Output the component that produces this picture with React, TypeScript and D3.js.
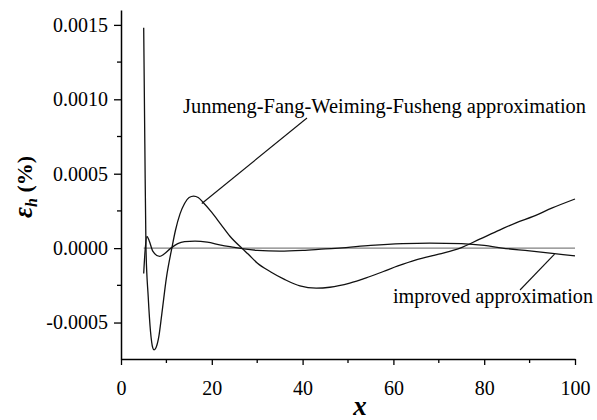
import * as d3 from "d3";
import { useEffect, useRef } from "react";

const xTicks = [0, 20, 40, 60, 80, 100];
const xMinor = [10, 30, 50, 70, 90];
const yTicks = [-0.0005, 0, 0.0005, 0.001, 0.0015];
const yMinor = [-0.00025, 0.00025, 0.00075, 0.00125];

// Junmeng-Fang-Weiming-Fusheng approximation
const jfwfX = [5, 5.25, 5.5, 6, 6.5, 7, 7.3, 7.7, 8.3, 9, 10, 11.2, 12, 13, 14, 15, 16, 17, 18, 20, 22, 24, 26.6, 28, 30, 33, 36, 39.4, 43, 46, 50.4, 54, 57.8, 61, 65, 70, 74.7, 79, 83.5, 87, 90.8, 95, 100];
const jfwfY = [0.00148, 0.0007, 0.0, -0.00033, -0.00056, -0.00067, -0.000684, -0.00067, -0.0006, -0.00044, -0.0002, 0.0, 0.00012, 0.00023, 0.0003, 0.00034, 0.00035, 0.00034, 0.00031, 0.00024, 0.00016, 0.00008, 0.0, -0.00004, -0.0001, -0.00016, -0.00021, -0.000254, -0.000269, -0.000263, -0.000235, -0.0002, -0.000157, -0.00012, -0.000079, -0.00004, 0.0, 0.00006, 0.000123, 0.00017, 0.000213, 0.00027, 0.00033];

// improved approximation
const impX = [5, 5.3, 5.7, 6.2, 7, 8.5, 9.5, 11, 12.5, 14, 16.3, 19, 22, 25, 27, 30, 35, 40, 45, 48, 55, 62, 68, 75, 80, 84, 90, 95, 100];
const impY = [-0.00017, -0.00002, 0.000078, 0.00005, -0.00002, -0.000056, -0.00004, 0.0, 0.00003, 0.000043, 0.000047, 0.00004, 0.00002, 0.000005, -0.000005, -0.000015, -0.00002, -0.000015, -0.000005, 0.0, 0.000018, 0.00003, 0.000034, 0.00003, 0.000018, 0.0, -0.000018, -0.000035, -0.000052];

const zeroX = [5, 100];

const width = 597;
const height = 420;
const marginLeft = 121;
const marginRight = 22;
const marginTop = 10;
const marginBottom = 61;
const font = "Liberation Serif, DejaVu Serif, serif";

export default function App() {
  const ref = useRef<SVGSVGElement>(null);

  useEffect(() => {
    const svg = d3.select(ref.current);
    svg.selectAll("*").remove();

    const x = d3.scaleLinear().domain([0, 100]).range([marginLeft, width - marginRight]);
    const y = d3
      .scaleLinear()
      .domain([-0.000745, 0.0016])
      .range([height - marginBottom, marginTop]);

    // zero reference line
    svg
      .append("line")
      .attr("x1", x(zeroX[0]))
      .attr("x2", x(zeroX[1]))
      .attr("y1", y(0))
      .attr("y2", y(0))
      .attr("stroke", "#808080")
      .attr("stroke-width", 1.2);

    const line = d3
      .line<[number, number]>()
      .x((d) => x(d[0]))
      .y((d) => y(d[1]))
      .curve(d3.curveMonotoneX);

    svg
      .append("path")
      .attr("d", line(impX.map((v, i) => [v, impY[i]])))
      .attr("fill", "none")
      .attr("stroke", "#111")
      .attr("stroke-width", 1.3);

    svg
      .append("path")
      .attr("d", line(jfwfX.map((v, i) => [v, jfwfY[i]])))
      .attr("fill", "none")
      .attr("stroke", "#111")
      .attr("stroke-width", 1.3);

    const fmtY = (d: d3.NumberValue) => d3.format(".4f")(d).replace("−", "-");

    // x axis
    const gx = svg
      .append("g")
      .attr("transform", `translate(0,${height - marginBottom})`)
      .call(
        d3.axisBottom(x).tickValues(xTicks).tickSize(6).tickSizeOuter(0).tickPadding(16).tickFormat(d3.format("d"))
      );
    gx.append("g")
      .selectAll("line")
      .data(xMinor)
      .join("line")
      .attr("x1", (d) => x(d))
      .attr("x2", (d) => x(d))
      .attr("y1", 0)
      .attr("y2", 4)
      .attr("stroke", "#000")
      .attr("stroke-width", 1.3);

    // y axis
    const gy = svg
      .append("g")
      .attr("transform", `translate(${marginLeft},0)`)
      .call(d3.axisLeft(y).tickValues(yTicks).tickSize(7).tickSizeOuter(0).tickPadding(6).tickFormat(fmtY));
    gy.append("g")
      .selectAll("line")
      .data(yMinor)
      .join("line")
      .attr("x1", 0)
      .attr("x2", -4)
      .attr("y1", (d) => y(d))
      .attr("y2", (d) => y(d))
      .attr("stroke", "#000")
      .attr("stroke-width", 1.3);

    svg.selectAll(".domain").attr("stroke-width", 1.5).attr("stroke", "#000");
    svg.selectAll(".tick line").attr("stroke-width", 1.3).attr("stroke", "#000");
    svg.selectAll("g").attr("font-family", font);
    svg
      .selectAll(".tick text")
      .attr("font-family", font)
      .attr("font-size", 20)
      .attr("fill", "#000");

    // annotations
    svg
      .append("line")
      .attr("x1", x(17.8))
      .attr("y1", y(0.0003))
      .attr("x2", 307)
      .attr("y2", 118)
      .attr("stroke", "#111")
      .attr("stroke-width", 1.1);
    svg
      .append("text")
      .attr("x", 183)
      .attr("y", 113)
      .attr("font-family", font)
      .attr("font-size", 20)
      .attr("textLength", 403)
      .attr("lengthAdjust", "spacingAndGlyphs")
      .text("Junmeng-Fang-Weiming-Fusheng approximation");

    svg
      .append("line")
      .attr("x1", x(95.5))
      .attr("y1", y(-0.00004))
      .attr("x2", 520)
      .attr("y2", 290)
      .attr("stroke", "#111")
      .attr("stroke-width", 1.1);
    svg
      .append("text")
      .attr("x", 393)
      .attr("y", 303)
      .attr("font-family", font)
      .attr("font-size", 20)
      .attr("textLength", 200)
      .attr("lengthAdjust", "spacingAndGlyphs")
      .text("improved approximation");

    // axis titles
    svg
      .append("text")
      .attr("x", 360)
      .attr("y", 415)
      .attr("text-anchor", "middle")
      .attr("font-family", font)
      .attr("font-size", 27)
      .attr("font-weight", "bold")
      .attr("font-style", "italic")
      .text("x");

    const yt = svg
      .append("text")
      .attr("transform", "translate(32,187) rotate(-90)")
      .attr("text-anchor", "middle")
      .attr("font-family", font)
      .attr("font-size", 22)
      .attr("font-weight", "bold");
    yt.append("tspan").attr("font-style", "italic").attr("font-size", 27).text("ε");
    yt.append("tspan").attr("font-style", "italic").attr("font-size", 16).attr("dy", 5).text("h");
    yt.append("tspan").attr("dy", -5).text(" (%)");
  }, []);

  return (
    <svg
      ref={ref}
      width={width}
      height={height}
      viewBox={`0 0 ${width} ${height}`}
      style={{ position: "absolute", left: 0, top: 0, background: "#fff" }}
    />
  );
}
